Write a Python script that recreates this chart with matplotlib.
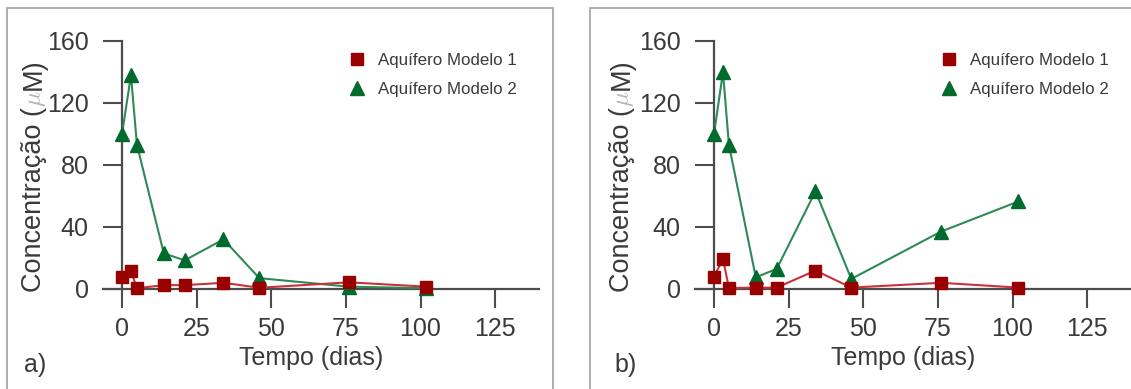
import matplotlib
matplotlib.use('Agg')
import matplotlib.pyplot as plt
from matplotlib.patches import Rectangle
from matplotlib.lines import Line2D

plt.rcParams['font.family'] = ['Liberation Sans', 'DejaVu Sans']
plt.rcParams['mathtext.fontset'] = 'cm'

# ---- data ----
dias = [0, 3, 5, 14, 21, 34, 46, 76, 102]
a_modelo1 = [7.8, 11.5, 0.5, 2.5, 2.5, 4.0, 0.8, 4.3, 1.5]
a_modelo2 = [100, 138, 93, 23, 18.5, 32, 7, 1.5, 0.5]
b_modelo1 = [7.9, 19.5, 0.6, 0.9, 0.9, 11.9, 0.9, 4.0, 0.9]
b_modelo2 = [100, 140, 93, 7.5, 13, 63, 6.5, 37, 56.5]
series_labels = ['Aquífero Modelo 1', 'Aquífero Modelo 2']
xticks = [0, 25, 50, 75, 100, 125]
yticks = [0, 40, 80, 120, 160]
panel_labels = ['a)', 'b)']
xlabel = 'Tempo (dias)'
ylabel_parts = ['Concentração (', r'$\mu$', 'M)']

W, H = 1131, 389
fig = plt.figure(figsize=(W / 100, H / 100), dpi=100)


def fx(px):
    return px / W


def fy(py):
    return 1 - py / H


RED_MK = '#990000'
RED_LN = '#c8323a'
GRN_MK = '#006b2d'
GRN_LN = '#2f8a55'
AX_COL = '#4d4d4d'
TXT_COL = '#3a3a3a'
FRAME_COL = '#a8a8a8'

panels = [
    dict(m1=a_modelo1, m2=a_modelo2, left=103, frame_l=7, frame_r=553, yl_x=41, lab_x=24),
    dict(m1=b_modelo1, m2=b_modelo2, left=695, frame_l=590, frame_r=1300, yl_x=629, lab_x=614),
]

renderer = fig.canvas.get_renderer()

for i, p in enumerate(panels):
    # frame
    fig.add_artist(Rectangle((fx(p['frame_l']), fy(420)), (p['frame_r'] - p['frame_l']) / W, (420 - 8) / H,
                             transform=fig.transFigure, fill=False, ec=FRAME_COL, lw=1.3))

    ax = fig.add_axes([fx(p['left']), fy(289), 436 / W, 248 / H])
    ax.set_xlim(-6.37, 139.7)
    ax.set_ylim(0, 160)
    ax.patch.set_visible(False)

    ax.plot(dias, p['m2'], color=GRN_LN, lw=1.5, marker='^', ms=10, mfc=GRN_MK, mec=GRN_MK,
            clip_on=False, zorder=3)
    ax.plot(dias, p['m1'], color=RED_LN, lw=1.5, marker='s', ms=9.3, mfc=RED_MK, mec=RED_MK,
            clip_on=False, zorder=4)

    for s in ['top', 'right']:
        ax.spines[s].set_visible(False)
    ax.spines['left'].set_position(('data', 0))
    for s in ['left', 'bottom']:
        ax.spines[s].set_color(AX_COL)
        ax.spines[s].set_linewidth(1.6)

    ax.set_xticks(xticks)
    ax.set_yticks(yticks)
    ax.tick_params(direction='out', length=14, width=1.5, color=AX_COL, labelcolor=TXT_COL, labelsize=18)
    ax.tick_params(axis='x', pad=6)
    ax.tick_params(axis='y', pad=10)

    handles = [Line2D([], [], ls='none', marker='s', ms=8.5, mfc=RED_MK, mec=RED_MK),
               Line2D([], [], ls='none', marker='^', ms=9.5, mfc=GRN_MK, mec=GRN_MK)]
    off = p['left'] - 103
    ax.legend(handles, series_labels, loc='upper left',
              bbox_to_anchor=(fx(349 + off), fy(53)), bbox_transform=fig.transFigure,
              frameon=False, fontsize=12.2, handlelength=1.0, handletextpad=0.7,
              borderpad=0, borderaxespad=0, labelspacing=0.85, markerscale=1.1,
              labelcolor=TXT_COL)

    # x label
    fig.text(fx(p['left'] + 208), fy(365), xlabel, ha='center', va='baseline',
             fontsize=18, color=TXT_COL)
    # panel label
    fig.text(fx(p['lab_x']), fy(372), panel_labels[i], ha='left', va='baseline',
             fontsize=18, color=TXT_COL)

    # y label composed of pieces
    ystart = 292
    for j, part in enumerate(ylabel_parts):
        col = '#b5b5b5' if j == 1 else TXT_COL
        size = 18 if j == 1 else 19.5
        t = fig.text(fx(p['yl_x']), fy(ystart), part, rotation=90, rotation_mode='anchor',
                     ha='left', va='baseline', fontsize=size, color=col)
        bb = t.get_window_extent(renderer)
        ystart -= bb.height + (1 if j == 1 else 0)

fig.savefig('out.png', dpi=100)
